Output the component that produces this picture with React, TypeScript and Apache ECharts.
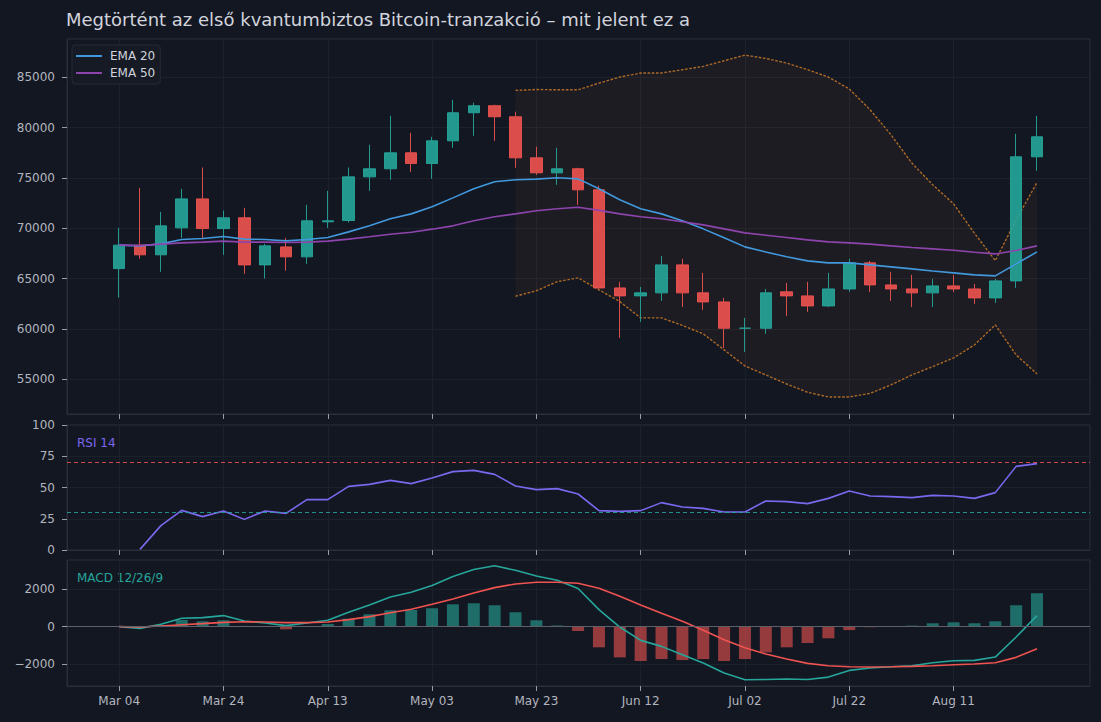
import React, { useEffect, useRef } from 'react';
import * as echarts from 'echarts';

const FONT = "'DejaVu Sans', 'Noto Sans', sans-serif";

const tickIndex = [0, 5, 10, 15, 20, 25, 30, 35, 40];
const tickLabels = ['Mar 04', 'Mar 24', 'Apr 13', 'May 03', 'May 23', 'Jun 12', 'Jul 02', 'Jul 22', 'Aug 11'];
const priceTicks = [55000, 60000, 65000, 70000, 75000, 80000, 85000];
const macdTicks = [-2000, 0, 2000];

const openP = [66000, 68330, 67370, 70050, 72930, 69980, 71050, 66370, 68160, 67170, 70650, 70780, 75120, 75920, 77510, 76450, 78700, 81490, 82190, 81090, 77010, 75520, 75920, 73830, 64080, 63290, 63590, 66370, 63590, 62690, 60075, 60070, 63690, 63290, 62290, 63980, 66570, 64380, 63980, 63590, 64280, 63980, 63090, 64780, 77110];
const closeP = [68330, 67370, 70250, 72930, 69980, 71050, 66370, 68260, 67170, 70750, 70750, 75120, 75920, 77510, 76450, 78700, 81490, 82190, 81090, 77010, 75520, 75920, 73830, 64080, 63290, 63590, 66370, 63590, 62690, 60070, 60080, 63590, 63290, 62290, 63980, 66570, 64380, 63980, 63590, 64280, 63980, 63090, 64780, 77110, 79100];
const highP = [70050, 74030, 71640, 73930, 76050, 71770, 72040, 68460, 69060, 72340, 73730, 76050, 78310, 81190, 79500, 79100, 82780, 82490, 82290, 81590, 78110, 78010, 76020, 74230, 64680, 64180, 67270, 66970, 65580, 63090, 61100, 63980, 64580, 64680, 65580, 66970, 66770, 65680, 65380, 64980, 65380, 64480, 64980, 79400, 81190];
const lowP = [63120, 66970, 65680, 69060, 68930, 67370, 65480, 65010, 65800, 66470, 70050, 70580, 73730, 74830, 75620, 74920, 78010, 79200, 78700, 76020, 75320, 74330, 72340, 63980, 59110, 60700, 62790, 62190, 61890, 58110, 57720, 59510, 61300, 61700, 62190, 63690, 63690, 62790, 62190, 62190, 63690, 62490, 62590, 64080, 75720];

const ema20 = [68330, 68260, 68460, 68890, 68990, 69190, 68930, 68890, 68760, 68890, 69090, 69650, 70250, 70950, 71440, 72140, 73030, 73930, 74630, 74830, 74890, 75030, 74920, 73930, 72840, 71940, 71440, 70750, 69950, 69060, 68160, 67660, 67170, 66770, 66570, 66570, 66370, 66170, 65970, 65770, 65580, 65380, 65280, 66470, 67660];
const ema50 = [68330, 68300, 68430, 68560, 68630, 68730, 68630, 68630, 68600, 68630, 68730, 68930, 69160, 69420, 69620, 69920, 70250, 70750, 71150, 71440, 71750, 71950, 72100, 71790, 71440, 71150, 70950, 70650, 70350, 69950, 69550, 69320, 69090, 68860, 68660, 68560, 68430, 68260, 68100, 67960, 67830, 67630, 67460, 67800, 68260];

const bandStart = 19;
const bandUpper = [83710, 83800, 83770, 83770, 84440, 85040, 85440, 85440, 85770, 86100, 86660, 87220, 86890, 86430, 85770, 85040, 83850, 81790, 79300, 76490, 74330, 72440, 69520, 66800, 70850, 74560];
const bandLower = [63250, 63800, 64700, 65080, 63890, 62720, 61100, 61100, 60350, 59510, 57920, 56320, 55430, 54530, 53710, 53240, 53240, 53600, 54440, 55430, 56260, 57120, 58410, 60400, 57420, 55530];

const rsi14 = [null, 0.5, 19.5, 31.7, 26.7, 31.2, 24.5, 31.2, 29.3, 40.3, 40.3, 50.9, 52.5, 55.7, 53.1, 57.6, 62.7, 63.7, 60.5, 51.2, 48.3, 49.1, 44.8, 31.5, 30.9, 31.5, 37.9, 34.4, 33.3, 30.4, 30.4, 39.2, 38.7, 37.1, 41.3, 47.2, 43.2, 42.7, 41.9, 43.7, 43.2, 41.3, 45.9, 66.9, 69.1];

const macdLine = [0, -90, 125, 445, 480, 590, 300, 195, 55, 195, 340, 765, 1155, 1580, 1830, 2190, 2670, 3040, 3240, 3000, 2700, 2470, 2030, 905, -20, -730, -1050, -1495, -1940, -2470, -2830, -2810, -2790, -2810, -2685, -2330, -2205, -2135, -2080, -1920, -1815, -1795, -1620, -550, 590];
const signalLine = [0, -15, 35, 105, 160, 230, 265, 250, 215, 215, 250, 375, 535, 745, 925, 1190, 1475, 1795, 2080, 2275, 2365, 2365, 2310, 2045, 1620, 1155, 710, 285, -195, -695, -1120, -1460, -1725, -1955, -2080, -2135, -2150, -2135, -2115, -2080, -2025, -1990, -1920, -1635, -1175];
const macdHist = [0, -75, 90, 355, 285, 340, 40, -20, -140, -20, 140, 425, 660, 870, 890, 980, 1190, 1245, 1140, 765, 340, 60, -230, -1100, -1635, -1830, -1725, -1780, -1725, -1830, -1725, -1370, -1100, -870, -620, -180, -30, 0, 55, 180, 230, 180, 285, 1140, 1780];

const BG = '#131722';
const GRIDLINE = '#1d212c';
const FRAME = '#2a2e39';
const TICK = '#9a9da6';
const LABEL = '#b2b5be';
const UP = '#26a69a';
const DOWN = '#ef5350';
const BAND_LINE = 'rgba(215,128,40,0.78)';

const X_MIN = -2.5;
const X_MAX = 46.54;

function fmtNum(v: number) {
  return v < 0 ? '\u2212' + Math.abs(v) : String(v);
}

function pairs(arr: (number | null)[], start = 0) {
  return arr.map((v, i) => [start + i, v === null ? '-' : v]);
}

function xAxis(gridIndex: number, showLabel: boolean) {
  return {
    type: 'value',
    gridIndex,
    min: X_MIN,
    max: X_MAX,
    position: 'bottom',
    axisLine: { show: true, onZero: false, lineStyle: { color: FRAME, width: 1 } },
    axisTick: {
      show: true,
      customValues: tickIndex,
      length: 5,
      lineStyle: { color: TICK, width: 1 },
    },
    axisLabel: {
      show: showLabel,
      customValues: tickIndex,
      color: LABEL,
      fontFamily: FONT,
      fontSize: 12,
      margin: 9,
      formatter: (v: number) => {
        const k = tickIndex.indexOf(Math.round(v));
        return k >= 0 ? tickLabels[k] : '';
      },
    },
    splitLine: { show: true, lineStyle: { color: GRIDLINE, width: 1 } },
  };
}

function yAxisBase(gridIndex: number) {
  return {
    type: 'value',
    gridIndex,
    position: 'left',
    axisLine: { show: true, onZero: false, lineStyle: { color: FRAME, width: 1 } },
    axisTick: { show: true, length: 5, lineStyle: { color: TICK, width: 1 } },
    axisLabel: {
      color: LABEL,
      fontFamily: FONT,
      fontSize: 12,
      margin: 12,
      formatter: (v: number) => fmtNum(v),
    },
    splitLine: { show: true, lineStyle: { color: GRIDLINE, width: 1 } },
  };
}

export default function App() {
  const ref = useRef<HTMLDivElement>(null);

  useEffect(() => {
    const el = ref.current;
    if (!el) return;
    const chart = echarts.init(el, undefined, { renderer: 'svg' });

    const candleData = openP.map((o, i) => [i, o, closeP[i], lowP[i], highP[i]]);
    const bandData = bandUpper.map((u, i) => [bandStart + i, u, bandLower[i]]);

    const mainY: any = yAxisBase(0);
    mainY.min = 51550;
    mainY.max = 88820;
    mainY.axisTick.customValues = priceTicks;
    mainY.axisLabel.customValues = priceTicks;

    const rsiY: any = yAxisBase(1);
    rsiY.min = 0;
    rsiY.max = 100;
    rsiY.interval = 25;

    const macdY: any = yAxisBase(2);
    macdY.min = -3160;
    macdY.max = 3550;
    macdY.axisTick.customValues = macdTicks;
    macdY.axisLabel.customValues = macdTicks;

    const gridCommon = {
      left: 67,
      width: 1023,
      show: true,
      borderColor: FRAME,
      borderWidth: 1,
      backgroundColor: 'transparent',
      containLabel: false,
      outerBoundsMode: 'none',
    };

    const option: any = {
      animation: false,
      backgroundColor: BG,
      textStyle: { fontFamily: FONT },
      title: {
        text: 'Megtörtént az első kvantumbiztos Bitcoin-tranzakció – mit jelent ez a',
        left: 61,
        top: 5,
        textStyle: { color: '#d1d4dc', fontSize: 18, fontWeight: 'normal', fontFamily: FONT },
      },
      legend: {
        data: ['EMA 20', 'EMA 50'],
        orient: 'vertical',
        left: 72,
        top: 45,
        icon: 'rect',
        itemWidth: 26,
        itemHeight: 2,
        itemGap: 5,
        padding: [5, 5, 5, 4],
        backgroundColor: '#161a25',
        borderColor: '#262a35',
        borderWidth: 1,
        borderRadius: 3,
        textStyle: { color: '#d1d4dc', fontSize: 12, fontFamily: FONT, padding: [0, 0, 0, 3] },
      },
      graphic: [
        {
          type: 'text',
          left: 77,
          top: 437,
          style: { text: 'RSI 14', fill: '#7b68ee', font: `12px ${FONT}` },
        },
        {
          type: 'text',
          left: 77,
          top: 572,
          style: { text: 'MACD 12/26/9', fill: UP, font: `12px ${FONT}` },
        },
      ],
      grid: [
        { ...gridCommon, top: 39, height: 375 },
        { ...gridCommon, top: 425, height: 125 },
        { ...gridCommon, top: 560, height: 126 },
      ],
      xAxis: [xAxis(0, false), xAxis(1, false), xAxis(2, true)],
      yAxis: [mainY, rsiY, macdY],
      series: [
        {
          type: 'custom',
          name: 'Forecast band',
          xAxisIndex: 0,
          yAxisIndex: 0,
          silent: true,
          z: 1,
          data: bandData,
          encode: { x: 0, y: [1, 2] },
          renderItem: (params: any, api: any) => {
            if (params.dataIndex !== 0) return null;
            const top = bandUpper.map((v, i) => api.coord([bandStart + i, v]));
            const bot = bandLower.map((v, i) => api.coord([bandStart + i, v])).reverse();
            return {
              type: 'polygon',
              shape: { points: top.concat(bot) },
              style: { fill: 'rgba(240,120,60,0.055)' },
            };
          },
        },
        {
          type: 'line',
          name: 'Upper',
          xAxisIndex: 0,
          yAxisIndex: 0,
          data: pairs(bandUpper, bandStart),
          symbol: 'none',
          silent: true,
          z: 2,
          lineStyle: { color: BAND_LINE, width: 1.4, type: [2.6, 1.6] },
        },
        {
          type: 'line',
          name: 'Lower',
          xAxisIndex: 0,
          yAxisIndex: 0,
          data: pairs(bandLower, bandStart),
          symbol: 'none',
          silent: true,
          z: 2,
          lineStyle: { color: BAND_LINE, width: 1.4, type: [2.6, 1.6] },
        },
        {
          type: 'candlestick',
          name: 'BTC',
          xAxisIndex: 0,
          yAxisIndex: 0,
          data: candleData,
          encode: { x: 0, y: [1, 2, 3, 4] },
          barWidth: 12,
          z: 3,
          itemStyle: {
            color: UP,
            color0: DOWN,
            borderColor: UP,
            borderColor0: DOWN,
            borderWidth: 1,
            opacity: 0.9,
          },
        },
        {
          type: 'line',
          name: 'EMA 20',
          xAxisIndex: 0,
          yAxisIndex: 0,
          data: pairs(ema20),
          symbol: 'none',
          z: 4,
          color: '#4298dc',
          lineStyle: { color: '#4298dc', width: 1.6 },
        },
        {
          type: 'line',
          name: 'EMA 50',
          xAxisIndex: 0,
          yAxisIndex: 0,
          data: pairs(ema50),
          symbol: 'none',
          z: 4,
          color: '#8e44ad',
          lineStyle: { color: '#8e44ad', width: 1.6 },
        },
        {
          type: 'line',
          name: 'RSI 14',
          xAxisIndex: 1,
          yAxisIndex: 1,
          data: pairs(rsi14),
          symbol: 'none',
          lineStyle: { color: '#7b68ee', width: 1.6 },
          markLine: {
            silent: true,
            symbol: 'none',
            label: { show: false },
            data: [
              { yAxis: 70, lineStyle: { color: 'rgba(239,83,80,0.85)', type: [4, 3], width: 1 } },
              { yAxis: 30, lineStyle: { color: 'rgba(38,166,154,0.85)', type: [4, 3], width: 1 } },
            ],
          },
        },
        {
          type: 'bar',
          name: 'Histogram',
          xAxisIndex: 2,
          yAxisIndex: 2,
          data: pairs(macdHist),
          barWidth: 12,
          itemStyle: {
            color: (p: any) => (p.value[1] >= 0 ? 'rgba(38,166,154,0.6)' : 'rgba(239,83,80,0.6)'),
          },
          markLine: {
            silent: true,
            symbol: 'none',
            label: { show: false },
            data: [{ yAxis: 0, lineStyle: { color: '#5d606b', type: 'solid', width: 1 } }],
          },
        },
        {
          type: 'line',
          name: 'MACD',
          xAxisIndex: 2,
          yAxisIndex: 2,
          data: pairs(macdLine),
          symbol: 'none',
          lineStyle: { color: UP, width: 1.6 },
        },
        {
          type: 'line',
          name: 'Signal',
          xAxisIndex: 2,
          yAxisIndex: 2,
          data: pairs(signalLine),
          symbol: 'none',
          lineStyle: { color: DOWN, width: 1.6 },
        },
      ],
    };

    chart.setOption(option);
    return () => {
      chart.dispose();
    };
  }, []);

  return (
    <div
      ref={ref}
      style={{ position: 'fixed', left: 0, top: 0, width: 1101, height: 722, background: BG }}
    />
  );
}
